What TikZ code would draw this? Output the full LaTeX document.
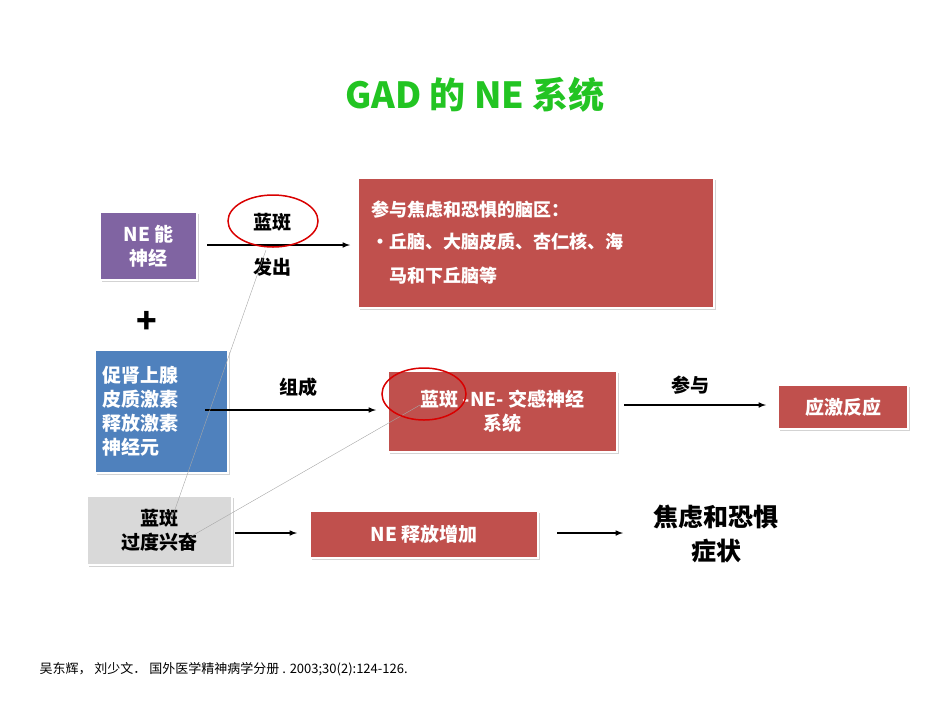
\documentclass[tikz,border=0pt]{standalone}
\usepackage{fontspec}
\setmainfont{Noto Sans CJK SC}
\usetikzlibrary{shadows}
\definecolor{rd}{HTML}{C0504D}
\definecolor{pu}{HTML}{8064A2}
\definecolor{bl}{HTML}{4F81BD}
\definecolor{gy}{HTML}{D9D9D9}
\definecolor{gr}{HTML}{22C422}
\begin{document}
\begin{tikzpicture}[x=1pt,y=-1pt,
  box/.style={draw=white,line width=2.5pt,drop shadow={shadow xshift=1.5pt,shadow yshift=-2pt,opacity=0.35},text=white,font=\fontsize{19}{24}\selectfont\bfseries,inner sep=0pt},
  arr/.style={-latex,line width=1.5pt},
  lab/.style={font=\fontsize{19}{24}\selectfont\bfseries},
  thin/.style={draw=gray!70,line width=0.4pt},
  ring/.style={draw=red!85!black,line width=1.5pt}]
\useasboundingbox (0,0) rectangle (950,713);
\node[gr,font=\fontsize{36}{40}\selectfont\bfseries] (title) at (475,95) {GAD 的 NE 系统};
\node[box,fill=pu,minimum width=97pt,minimum height=68pt,align=center] (ne) at (148.5,246) {NE 能\\神经};
\node[font=\fontsize{34}{34}\selectfont\bfseries] (plus) at (147,322) {+};
\node[box,fill=bl,minimum width=133pt,minimum height=123pt,align=left,text width=118pt] (cr) at (161.5,411.5) {促肾上腺\\皮质激素\\释放激素\\神经元};
\node[box,fill=gy,text=black,minimum width=145pt,minimum height=69pt,align=center] (lc) at (159.5,530.5) {蓝斑\\过度兴奋};
\node[box,fill=rd,minimum width=356pt,minimum height=130pt,align=left,text width=330pt,font=\fontsize{18}{34}\selectfont\bfseries] (br) at (536,243) {参与焦虑和恐惧的脑区：\\[-2pt]
\makebox[18pt][l]{•}丘脑、大脑皮质、杏仁核、海\\\hspace*{18pt}马和下丘脑等};
\node[box,fill=rd,minimum width=229pt,minimum height=81pt,align=center] (sys) at (502.5,411.5) {蓝斑 -NE- 交感神经\\系统};
\node[box,fill=rd,minimum width=130pt,minimum height=44pt] (str) at (843,407) {应激反应};
\node[box,fill=rd,minimum width=228pt,minimum height=47pt] (rel) at (424,534.5) {NE 释放增加};
\node[font=\fontsize{25}{34}\selectfont\bfseries,align=center] (sym) at (716,534) {焦虑和恐惧\\症状};
\node[lab] (lb) at (272,222) {蓝斑};
\node[lab] (fc) at (272,267) {发出};
\node[lab] (zc) at (298,387) {组成};
\node[lab] (cy) at (690,385) {参与};
\coordinate (a1) at (207,245); \coordinate (b1) at (350,245);
\coordinate (a2) at (205,410); \coordinate (b2) at (376,410);
\coordinate (a3) at (624,405); \coordinate (b3) at (766,405);
\coordinate (a4) at (235,533); \coordinate (b4) at (297,533);
\coordinate (a5) at (557,533); \coordinate (b5) at (623,533);
\draw[arr] (a1) -- (b1);
\draw[arr] (a2) -- (b2);
\draw[arr] (a3) -- (b3);
\draw[arr] (a4) -- (b4);
\draw[arr] (a5) -- (b5);
\coordinate (t1) at (172,518); \coordinate (t2) at (266,250);
\coordinate (t3) at (190,537); \coordinate (t4) at (420,405);
\draw[thin] (t1) -- (t2);
\draw[thin] (t3) -- (t4);
\draw[ring] (273,221) ellipse [x radius=45, y radius=26];
\draw[ring] (424,394) ellipse [x radius=42, y radius=26];
\node[anchor=west,font=\fontsize{13}{15}\selectfont] (ref) at (36,669) {吴东辉， 刘少文． 国外医学精神病学分册 . 2003;30(2):124-126.};
\end{tikzpicture}
\end{document}
